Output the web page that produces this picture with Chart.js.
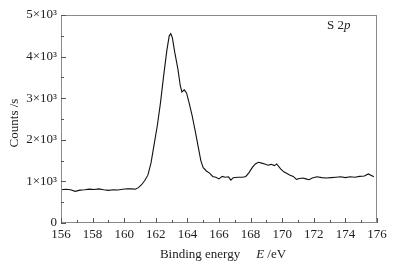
<!DOCTYPE html>
<html lang="en">
<head>
    <meta charset="UTF-8">
    <title>S 2p XPS</title>
    <style>
        body {
            margin: 0;
            background: #ffffff;
        }

        #chart-box {
            width: 408px;
            height: 269px;
        }
    </style>
    <script src="https://cdn.jsdelivr.net/npm/chart.js"></script>
</head>
<body>
    <div id="chart-box">
        <canvas id="xpsChart" width="408" height="269"></canvas>
    </div>

    <script>
        // binding energy (eV) and counts
        const energy = [
            156.0, 156.3, 156.6, 156.9, 157.2, 157.5, 157.8, 158.1, 158.4, 158.7,
            159.0, 159.3, 159.6, 159.9, 160.2, 160.5, 160.7, 160.9, 161.1, 161.3,
            161.5, 161.7, 161.9, 162.1, 162.3, 162.5, 162.7, 162.85, 162.95, 163.05,
            163.2, 163.4, 163.55, 163.65, 163.8, 163.95, 164.1, 164.3, 164.5, 164.7,
            164.85, 165.0, 165.2, 165.4, 165.6, 165.8, 166.0, 166.2, 166.4, 166.6,
            166.75, 166.9, 167.2, 167.5, 167.7, 167.9, 168.1, 168.3, 168.5, 168.7,
            168.9, 169.1, 169.3, 169.5, 169.65, 169.9, 170.1, 170.3, 170.5, 170.7,
            170.9, 171.1, 171.3, 171.5, 171.7, 171.9, 172.2, 172.5, 172.8, 173.1,
            173.4, 173.7, 174.0, 174.3, 174.6, 174.9, 175.2, 175.45, 175.8
        ];
        const counts = [
            800, 810, 800, 760, 790, 800, 815, 805, 820, 800,
            785, 800, 795, 810, 825, 820, 810, 850, 920, 1020,
            1150, 1450, 1900, 2350, 2900, 3550, 4150, 4500, 4550, 4450,
            4100, 3700, 3300, 3150, 3200, 3120, 2900, 2580, 2200, 1800,
            1500, 1330, 1250, 1200, 1120, 1100, 1060, 1120, 1100, 1110,
            1030, 1090, 1100, 1100, 1120, 1210, 1330, 1420, 1460, 1440,
            1420, 1390, 1410, 1380, 1420, 1300, 1230, 1190, 1150, 1120,
            1050, 1070, 1080, 1060, 1040, 1080, 1110, 1090, 1080, 1090,
            1100, 1110, 1090, 1110, 1100, 1120, 1130, 1180, 1110
        ];

        // axis ticks
        const xMajorTicks = [156, 158, 160, 162, 164, 166, 168, 170, 172, 174, 176];
        const xMinorTicks = [157, 159, 161, 163, 165, 167, 169, 171, 173, 175];
        const yMajorTicks = [0, 1000, 2000, 3000, 4000, 5000];
        const yMinorTicks = [500, 1500, 2500, 3500, 4500];
        const yTickLabels = ['0', '1×10³', '2×10³', '3×10³', '4×10³', '5×10³'];

        const serif = '"Liberation Serif", "Times New Roman", serif';

        // frame, inward ticks, titles and the S 2p note
        const framePlugin = {
            id: 'frame',
            afterDraw(chart) {
                const ctx = chart.ctx;
                const a = chart.chartArea;
                const xs = chart.scales.x;
                const ys = chart.scales.y;
                ctx.save();
                ctx.strokeStyle = '#8a8a8a';
                ctx.lineWidth = 1;
                ctx.strokeRect(a.left + 0.5, a.top + 0.5, a.right - a.left - 1, a.bottom - a.top - 1);

                ctx.strokeStyle = '#555555';
                ctx.beginPath();
                xMajorTicks.forEach(v => {
                    const px = Math.round(xs.getPixelForValue(v)) + 0.5;
                    ctx.moveTo(px, a.bottom);
                    ctx.lineTo(px, a.bottom - 5);
                });
                xMinorTicks.forEach(v => {
                    const px = Math.round(xs.getPixelForValue(v)) + 0.5;
                    ctx.moveTo(px, a.bottom);
                    ctx.lineTo(px, a.bottom - 3);
                });
                yMajorTicks.forEach(v => {
                    const py = Math.round(ys.getPixelForValue(v)) + 0.5;
                    ctx.moveTo(a.left, py);
                    ctx.lineTo(a.left + 5, py);
                });
                yMinorTicks.forEach(v => {
                    const py = Math.round(ys.getPixelForValue(v)) + 0.5;
                    ctx.moveTo(a.left, py);
                    ctx.lineTo(a.left + 3, py);
                });
                ctx.stroke();

                ctx.fillStyle = '#222222';
                ctx.textBaseline = 'middle';

                // x title: "Binding energy    E /eV"
                ctx.font = '13px ' + serif;
                const part1 = 'Binding energy';
                const gap = 16;
                ctx.font = 'italic 13px ' + serif;
                const wE = ctx.measureText('E').width;
                ctx.font = '13px ' + serif;
                const w1 = ctx.measureText(part1).width;
                const w3 = ctx.measureText(' /eV').width;
                let tx = (a.left + a.right) / 2 - (w1 + gap + wE + w3) / 2 + 4;
                const ty = 255;
                ctx.textAlign = 'left';
                ctx.fillText(part1, tx, ty);
                tx += w1 + gap;
                ctx.font = 'italic 13px ' + serif;
                ctx.fillText('E', tx, ty);
                tx += wE;
                ctx.font = '13px ' + serif;
                ctx.fillText(' /eV', tx, ty);

                // y title
                ctx.save();
                ctx.translate(15, (a.top + a.bottom) / 2 + 4);
                ctx.rotate(-Math.PI / 2);
                ctx.textAlign = 'center';
                ctx.fillText('Counts /s', 0, 0);
                ctx.restore();

                // S 2p note
                ctx.font = '13px ' + serif;
                const ws = ctx.measureText('S 2').width;
                ctx.textAlign = 'left';
                ctx.fillText('S 2', 327, 26);
                ctx.font = 'italic 13px ' + serif;
                ctx.fillText('p', 327 + ws, 26);

                ctx.restore();
            }
        };

        function createChart() {
            const ctx = document.getElementById('xpsChart').getContext('2d');
            new Chart(ctx, {
                type: 'line',
                data: {
                    datasets: [{
                        data: energy.map((e, i) => ({ x: e, y: counts[i] })),
                        borderColor: '#111111',
                        borderWidth: 1.1,
                        pointRadius: 0,
                        tension: 0,
                        fill: false
                    }]
                },
                options: {
                    responsive: false,
                    animation: false,
                    layout: {
                        padding: { top: 15, right: 31, left: 0, bottom: 0 }
                    },
                    plugins: {
                        legend: { display: false },
                        tooltip: { enabled: false }
                    },
                    scales: {
                        x: {
                            type: 'linear',
                            min: 156,
                            max: 176,
                            afterFit: (scale) => { scale.height = 46; },
                            afterBuildTicks: (scale) => {
                                scale.ticks = xMajorTicks.map(v => ({ value: v }));
                            },
                            grid: { display: false, drawTicks: false },
                            border: { display: false },
                            ticks: {
                                padding: 4,
                                color: '#222222',
                                maxRotation: 0,
                                autoSkip: false,
                                font: { family: serif, size: 13 }
                            }
                        },
                        y: {
                            min: 0,
                            max: 5000,
                            afterFit: (scale) => { scale.width = 61; },
                            afterBuildTicks: (scale) => {
                                scale.ticks = yMajorTicks.map(v => ({ value: v }));
                            },
                            grid: { display: false, drawTicks: false },
                            border: { display: false },
                            ticks: {
                                padding: 4,
                                color: '#222222',
                                autoSkip: false,
                                font: { family: serif, size: 13 },
                                callback: (value) => yTickLabels[yMajorTicks.indexOf(value)]
                            }
                        }
                    }
                },
                plugins: [framePlugin]
            });
        }

        window.onload = function () {
            createChart();
        };
    </script>
</body>
</html>
